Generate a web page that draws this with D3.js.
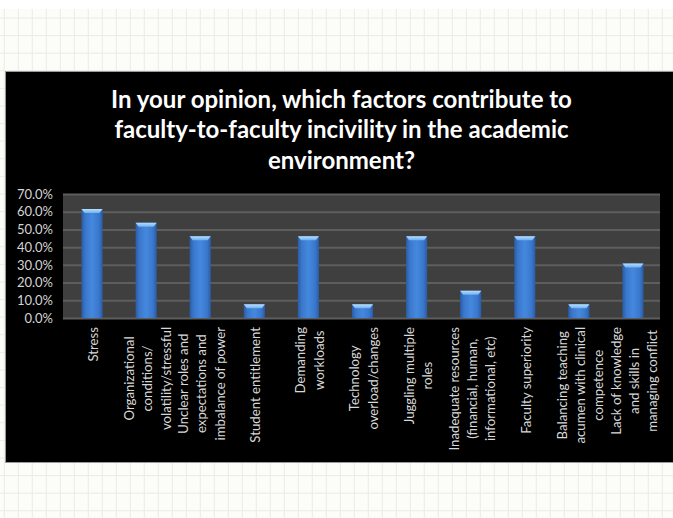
<!DOCTYPE html>
<html>
<head>
<meta charset="utf-8">
<script src="https://cdn.jsdelivr.net/npm/d3@7"></script>
<style>
  html, body { margin: 0; padding: 0; background: #ffffff; }
  svg { display: block; }
</style>
</head>
<body>
<script>
// ---- data ----
const categories = [
  ["Stress"],
  ["Organizational", "conditions/", "volatility/stressful"],
  ["Unclear roles and", "expectations and", "imbalance of power"],
  ["Student entitlement"],
  ["Demanding", "workloads"],
  ["Technology", "overload/changes"],
  ["Juggling multiple", "roles"],
  ["Inadequate resources", "(financial, human,", "informational, etc)"],
  ["Faculty superiority"],
  ["Balancing teaching", "acumen with clinical", "competence"],
  ["Lack of knowledge", "and skills in", "managing conflict"]
];
const values = [0.615, 0.538, 0.462, 0.077, 0.462, 0.077, 0.462, 0.154, 0.462, 0.077, 0.308];
const yTicks = [0, 0.1, 0.2, 0.3, 0.4, 0.5, 0.6, 0.7];
const titleLines = [
  "In your opinion, which factors contribute to",
  "faculty-to-faculty incivility in the academic",
  "environment?"
];

// ---- layout ----
const W = 673, H = 518;
const font = "Lato, 'Open Sans', sans-serif";
const svg = d3.select("body").append("svg").attr("width", W).attr("height", H);

// paper grid background
svg.append("rect").attr("x", 0).attr("y", 9).attr("width", W).attr("height", H - 9).attr("fill", "#fcfcf8");
const gridBg = svg.append("g").attr("stroke", "#ebebe6").attr("stroke-width", 1);
for (let gx = 4.3; gx < W; gx += 14) {
  gridBg.append("line").attr("x1", gx).attr("x2", gx).attr("y1", 9).attr("y2", H);
}
for (let gy = 18; gy < H; gy += 17.6) {
  gridBg.append("line").attr("x1", 0).attr("x2", W).attr("y1", gy).attr("y2", gy);
}

// black panel
svg.append("rect").attr("x", 5.5).attr("y", 71.5).attr("width", 700).attr("height", 391)
  .attr("fill", "#000").attr("stroke", "#9a9a9a").attr("stroke-width", 1);

// title
const title = svg.append("text").attr("text-anchor", "middle")
  .attr("font-family", font).attr("font-weight", "bold").attr("font-size", 24).attr("fill", "#ffffff");
titleLines.forEach((t, i) => {
  title.append("tspan").attr("x", 341.5).attr("y", 107.5 + i * 30.5).text(t);
});

// plot area
const plot = { left: 63, right: 660, top: 194, bottom: 318 };
const x = d3.scaleBand().domain(d3.range(categories.length))
  .range([65, plot.right]).paddingInner(0.61).paddingOuter(0.305);
const y = d3.scaleLinear().domain([0, 0.7]).range([plot.bottom, plot.top]);

svg.append("rect").attr("x", plot.left).attr("y", plot.top)
  .attr("width", plot.right - plot.left).attr("height", plot.bottom - plot.top).attr("fill", "#3f3f3f");

// gridlines
const grid = svg.append("g").attr("transform", `translate(${plot.left},0)`)
  .call(d3.axisLeft(y).tickValues(yTicks).tickSize(-(plot.right - plot.left)).tickFormat(""));
grid.select(".domain").remove();
grid.selectAll("line").attr("stroke", "#5e5e5e").attr("stroke-width", 2);

// y axis labels
const yAxis = svg.append("g").attr("transform", `translate(${plot.left},0)`)
  .call(d3.axisLeft(y).tickValues(yTicks).tickSize(0).tickPadding(10).tickFormat(d3.format(".1%")));
yAxis.select(".domain").remove();
yAxis.selectAll("text").attr("font-family", font).attr("font-size", 13).attr("fill", "#d4d4d4");

// gradients
const defs = svg.append("defs");
const g1 = defs.append("linearGradient").attr("id", "barBody").attr("x1", "0").attr("x2", "1").attr("y1", "0").attr("y2", "0");
[["0%", "#2a5ca5"], ["18%", "#3a77cc"], ["50%", "#4489de"], ["82%", "#3a77cc"], ["100%", "#2a5ca5"]]
  .forEach(([o, c]) => g1.append("stop").attr("offset", o).attr("stop-color", c));
const g2 = defs.append("linearGradient").attr("id", "barTop").attr("x1", "0").attr("x2", "0").attr("y1", "0").attr("y2", "1");
[["0%", "#b8defc"], ["100%", "#6fb0ef"]]
  .forEach(([o, c]) => g2.append("stop").attr("offset", o).attr("stop-color", c));

// bars
const bars = svg.append("g");
bars.selectAll("rect").data(values).join("rect")
  .attr("x", (d, i) => x(i)).attr("y", d => y(d))
  .attr("width", x.bandwidth()).attr("height", d => y(0) - y(d))
  .attr("fill", "url(#barBody)");
bars.selectAll("path").data(values).join("path")
  .attr("d", (d, i) => {
    const x0 = x(i), x1 = x(i) + x.bandwidth(), t = y(d);
    return `M${x0},${t}L${x1},${t}L${x1 - 3},${t + 4}L${x0 + 3},${t + 4}Z`;
  })
  .attr("fill", "url(#barTop)");

// x labels (rotated, multi-line, centred lines, block anchored near axis)
const lineGap = 18.3;
const labels = svg.append("g").selectAll("g").data(categories).join("g")
  .attr("font-family", font).attr("font-size", 13.2).attr("fill", "#d8d8d8");
labels.each(function (lines, i) {
  const g = d3.select(this);
  const texts = lines.map((t, j) => g.append("text").attr("text-anchor", "middle")
    .attr("dy", "0.35em").attr("y", (j - (lines.length - 1) / 2) * lineGap).text(t));
  const L = d3.max(texts, t => t.node().getComputedTextLength());
  texts.forEach(t => t.attr("x", -L / 2));
  g.attr("transform", `translate(${x(i) + x.bandwidth() / 2 + 1.5},327) rotate(-90)`);
});
</script>
</body>
</html>
